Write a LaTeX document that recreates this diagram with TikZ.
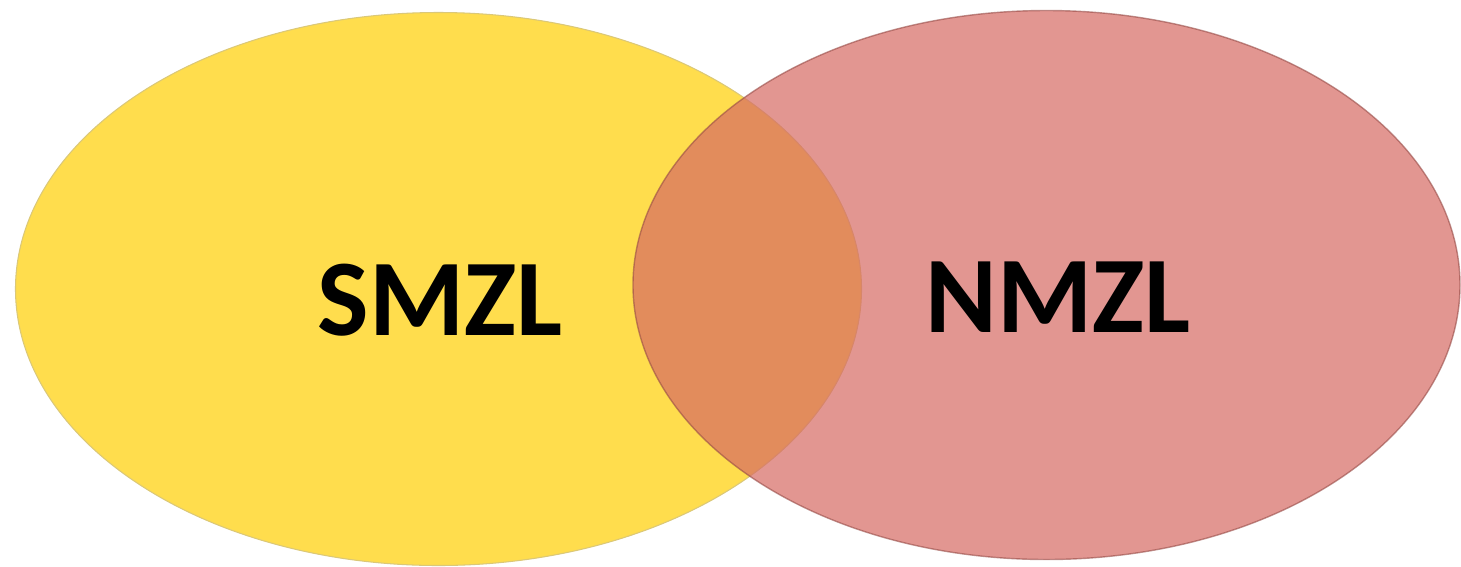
\documentclass[tikz,border=0pt]{standalone}
\usepackage{fontspec}
\setmainfont{Carlito}
\definecolor{smzlyellow}{RGB}{255,221,77}
\definecolor{nmzlpink}{RGB}{214,106,99}
\begin{document}
\begin{tikzpicture}[x=0.02cm, y=-0.02cm,
    setlabel/.style={anchor=base, inner sep=0pt, font=\fontsize{62}{62}\selectfont\bfseries}]
  \useasboundingbox (0,0) rectangle (1461,566);
  % SMZL set
  \coordinate (smzlc) at (438.5,289);
  \fill[smzlyellow, draw=smzlyellow!80!black!70, line width=0.6pt]
    (smzlc) ellipse [x radius=423, y radius=276.5];
  % NMZL set, see-through over the first one
  \coordinate (nmzlc) at (1046.5,285);
  \fill[nmzlpink, fill opacity=0.7, draw=nmzlpink!70!black, draw opacity=0.6, line width=0.8pt]
    (nmzlc) ellipse [x radius=413.5, y radius=274.5];
  % labels
  \node[setlabel] (smzl) at (440,335) {SMZL};
  \node[setlabel] (nmzl) at (1058,332) {NMZL};
\end{tikzpicture}
\end{document}
